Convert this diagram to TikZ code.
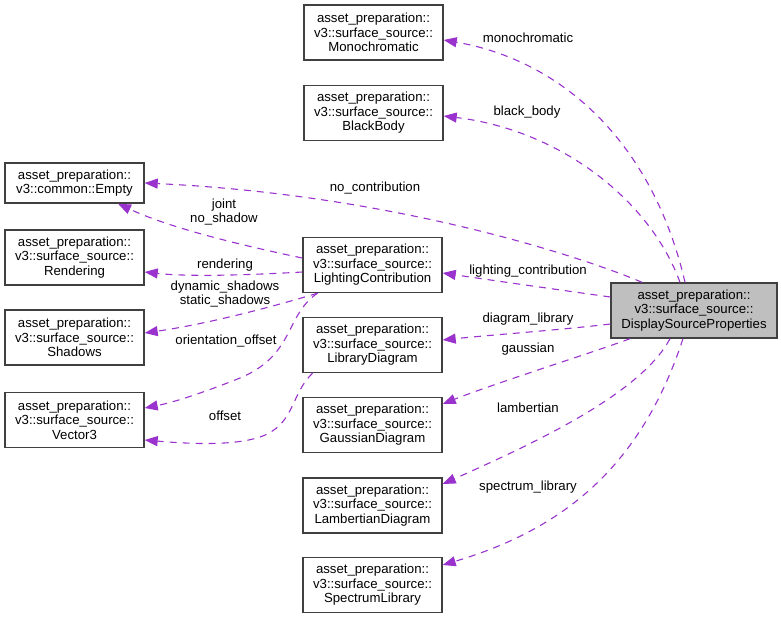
\documentclass[tikz,border=0pt]{standalone}
\usepackage{fontspec}
\setmainfont{Liberation Sans}
\usetikzlibrary{arrows.meta}
\definecolor{edgec}{HTML}{9A32CD}
\definecolor{boxline}{HTML}{404040}
\begin{document}
\begin{tikzpicture}[x=1pt,y=-1pt,
  box/.style={draw=boxline,line width=1.4pt,fill=white,rectangle,minimum width=139pt,minimum height=55pt,inner sep=0pt,align=center,font=\fontsize{13.2}{14.5}\selectfont},
  mainbox/.style={box,fill=black!25,minimum width=166pt},
  rel/.style={draw=edgec,line width=1.1pt,dash pattern=on 7pt off 6pt,-{Triangle[length=13pt,width=10pt]}},
  lbl/.style={font=\fontsize{13.2}{14.5}\selectfont,align=center,inner sep=0pt}]
\useasboundingbox (0,0) rectangle (781,619);
% nodes
\node[box] (mono) at (373.5,32.5) {asset\_preparation::\\v3::surface\_source::\\Monochromatic};
\node[box] (black) at (373.5,113) {asset\_preparation::\\v3::surface\_source::\\BlackBody};
\node[box,minimum height=40pt] (empty) at (74.5,183) {asset\_preparation::\\v3::common::Empty};
\node[box] (rend) at (74.5,257.5) {asset\_preparation::\\v3::surface\_source::\\Rendering};
\node[box] (shad) at (74.5,337.5) {asset\_preparation::\\v3::surface\_source::\\Shadows};
\node[box] (vec) at (74.5,420) {asset\_preparation::\\v3::surface\_source::\\Vector3};
\node[box] (lc) at (372.5,265) {asset\_preparation::\\v3::surface\_source::\\LightingContribution};
\node[box] (ld) at (372.5,345) {asset\_preparation::\\v3::surface\_source::\\LibraryDiagram};
\node[box] (gd) at (372.5,425) {asset\_preparation::\\v3::surface\_source::\\GaussianDiagram};
\node[box] (lad) at (372.5,505.5) {asset\_preparation::\\v3::surface\_source::\\LambertianDiagram};
\node[box] (sl) at (372.5,585) {asset\_preparation::\\v3::surface\_source::\\SpectrumLibrary};
\node[mainbox] (dsp) at (694,310.5) {asset\_preparation::\\v3::surface\_source::\\DisplaySourceProperties};
% anchor coordinates
\coordinate (dspT1) at ([xshift=-9pt]dsp.north);
\coordinate (dspT2) at ([xshift=-14pt]dsp.north);
\coordinate (dspT3) at ([xshift=-52pt]dsp.north);
\coordinate (dspL1) at ([yshift=13.5pt]dsp.west);
\coordinate (dspL2) at ([yshift=-13.5pt]dsp.west);
\coordinate (dspB1) at ([xshift=-64pt]dsp.south);
\coordinate (dspB2) at ([xshift=-24pt]dsp.south);
\coordinate (dspB3) at ([xshift=-11pt]dsp.south);
\coordinate (monoR) at ([yshift=-7.5pt]mono.east);
\coordinate (blackR) at ([yshift=-3pt]black.east);
\coordinate (lcR) at ([yshift=-8pt]lc.east);
\coordinate (ldR) at ([yshift=5pt]ld.east);
\coordinate (gdR) at ([yshift=21pt]gd.east);
\coordinate (ladR) at ([yshift=21.5pt]lad.east);
\coordinate (slR) at ([yshift=20pt]sl.east);
\coordinate (lcL1) at ([yshift=7pt]lc.west);
\coordinate (lcL2) at ([yshift=-7pt]lc.west);
\coordinate (lcB) at ([xshift=-55pt]lc.south);
\coordinate (ldB) at ([xshift=-60pt]ld.south);
\coordinate (emptyB) at ([xshift=43.5pt]empty.south);
\coordinate (rendR) at ([yshift=-14.5pt]rend.east);
\coordinate (shadR) at ([yshift=4.5pt]shad.east);
\coordinate (vecR1) at ([yshift=12pt]vec.east);
\coordinate (vecR2) at ([yshift=-20pt]vec.east);
% edges from DisplaySourceProperties
\draw[rel] (dspT1) .. controls (652,140) and (560,60) .. (monoR);
\draw[rel] (dspT2) .. controls (650,200) and (560,130) .. (blackR);
\draw[rel] (dspT3) .. controls (590,260) and (400,195) .. (empty.east);
\draw[rel] (dspL1) .. controls (560,290) and (490,280) .. (lcR);
\draw[rel] (dspL2) .. controls (560,330) and (490,335) .. (ldR);
\draw[rel] (dspB1) .. controls (600,350) and (490,385) .. (gdR);
\draw[rel] (dspB2) .. controls (640,395) and (530,445) .. (ladR);
\draw[rel] (dspB3) .. controls (640,470) and (560,530) .. (slR);
% edges from LightingContribution / LibraryDiagram
\draw[rel] (lcL1) .. controls (240,245) and (170,228) .. (emptyB);
\draw[rel] (lcL2) .. controls (250,275) and (190,277) .. (rendR);
\draw[rel] (lcB) .. controls (295,300) and (220,322) .. (shadR);
\draw[rel] (lcB) .. controls (285,315) and (295,355) .. (240,378) .. controls (205,392) and (175,402) .. (vecR1);
\draw[rel] (ldB) .. controls (290,395) and (295,425) .. (260,437) .. controls (230,447) and (180,443) .. (vecR2);
% labels
\node[lbl] (l1) at (528,38) {monochromatic};
\node[lbl] (l2) at (527,112) {black\_body};
\node[lbl] (l3) at (375,188) {no\_contribution};
\node[lbl] (l4) at (528,271) {lighting\_contribution};
\node[lbl] (l5) at (528,319) {diagram\_library};
\node[lbl] (l6) at (528,349) {gaussian};
\node[lbl] (l7) at (528,408) {lambertian};
\node[lbl] (l8) at (528,487) {spectrum\_library};
\node[lbl] (l9) at (224,212) {joint\\no\_shadow};
\node[lbl] (l10) at (225,265) {rendering};
\node[lbl] (l11) at (225,294) {dynamic\_shadows\\static\_shadows};
\node[lbl] (l12) at (226,341) {orientation\_offset};
\node[lbl] (l13) at (225,416) {offset};
\end{tikzpicture}
\end{document}
